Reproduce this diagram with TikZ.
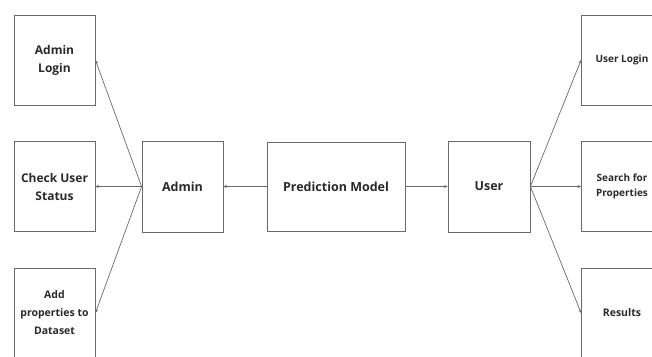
\documentclass[tikz,border=0pt]{standalone}
\usepackage{fontspec}
\setmainfont{Open Sans}
\usetikzlibrary{arrows.meta}
\definecolor{edge}{HTML}{6A6A6A}
\definecolor{ink}{HTML}{2A2A2A}
\tikzset{
  box/.style={draw=edge, line width=0.8pt, rectangle, align=center,
    text=ink, font=\bfseries\fontsize{12pt}{18pt}\selectfont, inner sep=2pt},
  sidebox/.style={box, minimum width=81pt, minimum height=90pt},
  link/.style={draw=edge, line width=0.7pt, -{Stealth[length=3.5pt,width=3pt]}}
}
\begin{document}
\begin{tikzpicture}[x=1pt,y=-1pt]
  \clip (0,0) rectangle (652,356);
  \fill[white] (0,0) rectangle (652,356);

  % central chain
  \node[box, minimum width=81pt, minimum height=91pt, font=\bfseries\fontsize{12.5pt}{15pt}\selectfont] (admin) at (182.5,186.5) {Admin};
  \node[box, minimum width=138pt, minimum height=89pt, font=\bfseries\fontsize{12.5pt}{15pt}\selectfont] (model) at (336,186.5) {Prediction Model};
  \node[box, minimum width=82pt, minimum height=91pt, font=\bfseries\fontsize{12.5pt}{15pt}\selectfont] (user) at (489,186.5) {User};

  % admin tasks
  \node[sidebox] (alogin) at (54.5,60) {Admin\\Login};
  \node[sidebox] (status) at (54.5,186.5) {Check User\\Status};
  \node[sidebox, font=\bfseries\fontsize{10.5pt}{18pt}\selectfont] (addprop) at (54.5,313) {Add\\properties to\\Dataset};

  % user tasks
  \node[sidebox, font=\bfseries\fontsize{10pt}{15pt}\selectfont] (ulogin) at (622,60) {User Login};
  \node[sidebox, font=\bfseries\fontsize{10pt}{15pt}\selectfont] (search) at (622,186.5) {Search for\\Properties};
  \node[sidebox, font=\bfseries\fontsize{10.5pt}{13pt}\selectfont] (results) at (622,313) {Results};

  % connectors
  \draw[link] (model.west) -- (admin.east);
  \draw[link] (model.east) -- (user.west);
  \draw[link] (admin.west) -- (alogin.east);
  \draw[link] (admin.west) -- (status.east);
  \draw[link] (admin.west) -- (addprop.east);
  \draw[link] (user.east) -- (ulogin.west);
  \draw[link] (user.east) -- (search.west);
  \draw[link] (user.east) -- (results.west);
\end{tikzpicture}
\end{document}
